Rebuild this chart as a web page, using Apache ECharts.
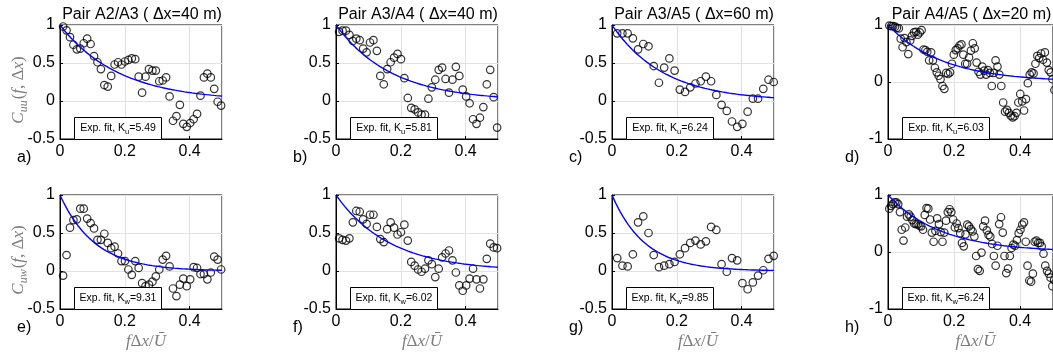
<!DOCTYPE html>
<html>
<head>
<meta charset="utf-8">
<script src="https://cdn.jsdelivr.net/npm/echarts/dist/echarts.min.js"></script>
<style>
  html, body { margin: 0; padding: 0; background: #fff; }
  #chart { width: 1053px; height: 356px; }
</style>
</head>
<body>
<div id="chart"></div>
<script>
// ---- Data: spectral coherence between sensor pairs (u row on top, uw row below) ----
const pairTitles = ['Pair A2/A3 ( \u0394x=40 m)', 'Pair A3/A4 ( \u0394x=40 m)',
                    'Pair A3/A5 ( \u0394x=60 m)', 'Pair A4/A5 ( \u0394x=20 m)'];
const panelLetters = ['a)', 'b)', 'c)', 'd)', 'e)', 'f)', 'g)', 'h)'];
const fitK = [5.49, 5.81, 6.24, 6.03, 9.31, 6.02, 9.85, 6.24];
const fitSub = ['u', 'u', 'u', 'u', 'w', 'w', 'w', 'w'];
const yMin = [-0.5, -0.5, -0.5, -1, -0.5, -0.5, -0.5, -1];
const yStep = [0.5, 0.5, 0.5, 1, 0.5, 0.5, 0.5, 1];
const xTicks = [0, 0.2, 0.4];

// frequency bins (normalised f*dx/U): first bin and bin spacing of each panel
const binStart = [0.0096, 0.0096, 0.0161, 0.004, 0.0096, 0.0096, 0.0161, 0.004];
const binStep  = [0.0106, 0.0106, 0.0161, 0.00575, 0.0106, 0.0106, 0.0161, 0.00537];

const cuuA2A3 = [0.98, 0.93, 0.84, 0.74, 0.68, 0.69, 0.76, 0.82, 0.75, 0.59, 0.51, 0.42, 0.21, 0.19, 0.33,
  0.48, 0.51, 0.48, 0.52, 0.54, 0.56, 0.55, 0.32, 0.11, 0.32, 0.42, 0.40, 0.40, 0.26, 0.27, 0.31, 0.06,
  -0.26, -0.20, -0.05, -0.30, -0.34, -0.29, -0.24, -0.17, 0.07, 0.31, 0.36, 0.31, 0.16, -0.01, -0.06];
const cuuA3A4 = [0.91, 0.925, 0.925, 0.87, 0.79, 0.82, 0.80, 0.69, 0.64, 0.77, 0.80, 0.66, 0.33, 0.22, 0.42,
  0.51, 0.57, 0.62, 0.55, 0.30, 0.04, -0.09, -0.11, -0.15, -0.18, -0.18, 0.03, 0.18, 0.28, 0.41, 0.44,
  0.29, 0.11, 0.28, 0.45, 0.33, 0.15, 0.06, -0.03, -0.24, -0.30, -0.22, -0.08, 0.22, 0.41, 0.05, -0.35];
const cuuA3A5 = [0.89, 0.89, 0.89, 0.825, 0.68, 0.75, 0.72, 0.46, 0.24, 0.44, 0.56, 0.40, 0.15, 0.12, 0.18,
  0.23, 0.26, 0.32, 0.26, 0.08, -0.05, -0.13, -0.27, -0.34, -0.30, -0.14, 0.03, 0.03, 0.16, 0.28, 0.25];
const cuuA4A5 = [0.99, 0.98, 0.98, 0.97, 0.95, 0.94, 0.76, 0.61, 0.77, 0.70,
  0.49, 0.73, 0.81, 0.87, 0.88, 0.83, 0.87, 0.91, 0.57, 0.56,
  0.53, 0.38, 0.52, 0.38, 0.25, 0.17, 0.11, 0.05, -0.07, -0.12,
  0.16, 0.14, 0.17, 0.32, 0.48, 0.56, 0.59, 0.64, 0.66, 0.48,
  0.32, 0.32, 0.43, 0.55, 0.68, 0.59, 0.34, 0.18, 0.13, 0.27,
  0.20, 0.13, 0.21, 0.16, -0.07, 0.16, 0.38, 0.27, 0.13, -0.07,
  -0.36, -0.52, -0.49, -0.54, -0.59, -0.62, -0.60, -0.54, -0.36, -0.21,
  -0.34, -0.50, -0.30, -0.02, 0.13, 0.17, 0.15, 0.32, 0.46, 0.42,
  0.50, 0.39, 0.52, 0.34, 0.21, 0.17, 0.05, -0.14];
const cuwA2A3 = [-0.06, 0.21, 0.57, 0.67, 0.68, 0.82, 0.82, 0.69, 0.63, 0.56, 0.41, 0.41, 0.49, 0.37, 0.30,
  0.32, 0.23, 0.13, 0.13, 0.02, -0.05, 0.13, 0.04, -0.16, -0.20, -0.18, -0.14, -0.07, 0.02, 0.15, 0.20,
  0.06, -0.23, -0.33, -0.18, -0.10, -0.20, -0.11, 0.05, 0.04, -0.04, -0.04, -0.11, -0.02, 0.19, 0.15, 0.02];
const cuwA3A4 = [0.43, 0.41, 0.40, 0.43, 0.64, 0.79, 0.78, 0.68, 0.62, 0.74, 0.74, 0.58, 0.42, 0.38, 0.55,
  0.64, 0.57, 0.48, 0.51, 0.61, 0.40, 0.12, 0.07, 0.02, -0.01, 0.03, 0.14, 0.09, -0.08, 0.03, 0.18,
  0.23, 0.27, 0.14, -0.02, -0.19, -0.26, -0.19, -0.10, 0.03, -0.11, -0.23, -0.11, 0.16, 0.36, 0.31, 0.30];
const cuwA3A5 = [0.17, 0.07, 0.06, 0.22, 0.64, 0.72, 0.50, 0.21, 0.05, 0.07, 0.09, 0.12, 0.22, 0.30, 0.37,
  0.40, 0.35, 0.39, 0.58, 0.54, 0.09, -0.01, 0.17, 0.14, -0.16, -0.24, -0.15, -0.06, 0.01, 0.16, 0.20];
const cuwA4A5 = [0.76, 0.81, 0.84, 0.87, 0.87, 0.84, 0.70, 0.39, 0.20, 0.43,
  0.62, 0.66, 0.62, 0.56, 0.50, 0.49, 0.49, 0.46, 0.45, 0.39,
  0.65, 0.77, 0.76, 0.57, 0.34, 0.18, 0.37, 0.59, 0.49, 0.35,
  0.18, 0.34, 0.55, 0.70, 0.75, 0.70, 0.57, 0.43, 0.50, 0.42,
  0.33, 0.16, 0.10, 0.31, 0.48, 0.45, 0.40, 0.36, 0.27, -0.07,
  -0.30, -0.33, -0.01, 0.45, 0.55, 0.38, 0.30, 0.27, 0.14, -0.07,
  -0.24, 0.11, 0.49, 0.61, 0.34, -0.07, -0.37, -0.29, -0.07, 0.07,
  0.13, 0.11, 0.21, 0.33, 0.39, 0.48, 0.52, 0.18, -0.24, -0.50,
  -0.52, -0.38, 0.18, 0.20, 0.16, 0.16, 0.10, -0.03, -0.24, -0.33,
  -0.38, -0.45, -0.60, -0.49];

const panelData = [cuuA2A3, cuuA3A4, cuuA3A5, cuuA4A5, cuwA2A3, cuwA3A4, cuwA3A5, cuwA4A5];

// ---- Layout ----
const SANS = '"Liberation Sans", Arial, Helvetica, sans-serif';
const SERIF = '"Liberation Serif", "Times New Roman", serif';
const colLeft = [60, 336, 612, 888];
const colWidth = [162, 162, 162, 165];
const rowTop = [25, 195];
const plotH = 114;
const LABEL_GRAY = '#7d7d7d';

const grids = [], xAxes = [], yAxes = [], series = [], graphics = [];

for (let p = 0; p < 8; p++) {
  const r = Math.floor(p / 4), c = p % 4;
  const left = colLeft[c], top = rowTop[r], w = colWidth[c];

  grids.push({ left: left, top: top, width: w, height: plotH, show: true,
               borderColor: '#000', borderWidth: 1, backgroundColor: 'transparent' });

  xAxes.push({
    type: 'value', gridIndex: p, min: 0, max: 0.5, interval: 0.2,
    axisLine: { show: true, onZero: false, lineStyle: { color: '#000', width: 1 } },
    axisTick: { show: true, inside: true, length: 3, lineStyle: { color: '#000' } },
    axisLabel: { show: true, showMaxLabel: false, color: '#000', fontFamily: SANS, fontSize: 16, margin: 5,
                 formatter: v => (xTicks.some(t => Math.abs(t - v) < 1e-9) ? String(+v.toFixed(1)) : '') },
    splitLine: { show: true, lineStyle: { color: '#e2e2e2', width: 1 } }
  });

  yAxes.push({
    type: 'value', gridIndex: p, min: yMin[p], max: 1, interval: yStep[p],
    axisLine: { show: true, onZero: false, lineStyle: { color: '#000', width: 1 } },
    axisTick: { show: true, inside: true, length: 3, lineStyle: { color: '#000' } },
    axisLabel: { show: true, color: '#000', fontFamily: SANS, fontSize: 16, margin: 5 },
    splitLine: { show: true, lineStyle: { color: '#e2e2e2', width: 1 } }
  });

  // measured coherence, one hollow circle per frequency bin
  const vals = panelData[p];
  series.push({
    type: 'scatter', xAxisIndex: p, yAxisIndex: p, silent: true, clip: false, z: 2,
    symbol: 'circle', symbolSize: 7.5,
    itemStyle: { color: 'rgba(0,0,0,0)', borderColor: '#000', borderWidth: 1.2 },
    data: vals.map((v, i) => [binStart[p] + i * binStep[p], v])
  });

  // exponential fit exp(-K f dx / U) with the K given in the legend box
  const fit = [];
  for (let k = 0; k <= 200; k++) {
    const x = k * 0.5 / 200;
    fit.push([x, Math.exp(-fitK[p] * x)]);
  }
  series.push({
    type: 'line', xAxisIndex: p, yAxisIndex: p, silent: true, z: 3,
    showSymbol: false, symbol: 'none', smooth: false,
    lineStyle: { color: '#0000ff', width: 1.4 },
    data: fit
  });

  // legend box with fitted decay constant
  const bx = left + 14, bw = 87, bh = 22, by = top + plotH - bh;
  graphics.push({
    type: 'rect', z: 100, silent: true,
    shape: { x: bx + 0.5, y: by + 0.5, width: bw, height: bh },
    style: { fill: '#fff', stroke: '#000', lineWidth: 1 }
  });
  graphics.push({
    type: 'text', z: 101, silent: true, x: bx + bw / 2 + 0.5, y: by + bh / 2 + 1,
    style: {
      text: '{n|Exp. fit, K}{s|' + fitSub[p] + '}{n|=' + fitK[p].toFixed(2) + '}',
      align: 'center', verticalAlign: 'middle', fill: '#000',
      rich: {
        n: { fontFamily: SANS, fontSize: 10.5, lineHeight: 12, verticalAlign: 'top', fill: '#000' },
        s: { fontFamily: SANS, fontSize: 7.5, lineHeight: 8, verticalAlign: 'top', padding: [5, 0, 0, 0], fill: '#000' }
      }
    }
  });

  // panel letter under the lower-left corner
  graphics.push({
    type: 'text', silent: true, x: left - 43, y: top + plotH + 19,
    style: { text: panelLetters[p], fill: '#000', fontFamily: SANS, fontSize: 16,
             align: 'left', verticalAlign: 'middle' }
  });

  if (r === 0) {
    graphics.push({
      type: 'text', silent: true, x: left + w / 2 + 1, y: 15,
      style: { text: pairTitles[c], fill: '#000', fontFamily: SANS, fontSize: 16,
               align: 'center', verticalAlign: 'middle' }
    });
  } else {
    // normalised frequency label under the bottom row
    graphics.push({
      type: 'text', silent: true, x: left + w / 2 + 5, y: 342,
      style: {
        text: '{i|f}{n|\u0394}{i|x}{n|/}{i|\u016A}',
        align: 'center', verticalAlign: 'middle', fill: LABEL_GRAY,
        rich: {
          i: { fontFamily: SERIF, fontStyle: 'italic', fontSize: 17, fill: LABEL_GRAY },
          n: { fontFamily: SERIF, fontSize: 17, fill: LABEL_GRAY }
        }
      }
    });
  }
}

// y-axis names of the left column
function coherenceName(sub) {
  return '{i|C}{s|' + sub + '}{n|(}{i|f}{n|, \u0394}{i|x}{n|)}';
}
const nameRich = {
  i: { fontFamily: SERIF, fontStyle: 'italic', fontSize: 17, lineHeight: 18, verticalAlign: 'top', fill: LABEL_GRAY },
  n: { fontFamily: SERIF, fontSize: 17, lineHeight: 18, verticalAlign: 'top', fill: LABEL_GRAY },
  s: { fontFamily: SERIF, fontStyle: 'italic', fontSize: 12, lineHeight: 12, verticalAlign: 'top', padding: [8, 1, 0, 0], fill: LABEL_GRAY }
};
[['uu', 90], ['uw', 260]].forEach(([sub, cy]) => {
  graphics.push({
    type: 'text', silent: true, x: 19, y: cy, rotation: Math.PI / 2,
    style: { text: coherenceName(sub), align: 'center', verticalAlign: 'middle', rich: nameRich }
  });
});

const chart = echarts.init(document.getElementById('chart'), null, { renderer: 'canvas' });
chart.setOption({
  animation: false,
  backgroundColor: '#fff',
  grid: grids,
  xAxis: xAxes,
  yAxis: yAxes,
  series: series,
  graphic: { elements: graphics }
});
</script>
</body>
</html>
